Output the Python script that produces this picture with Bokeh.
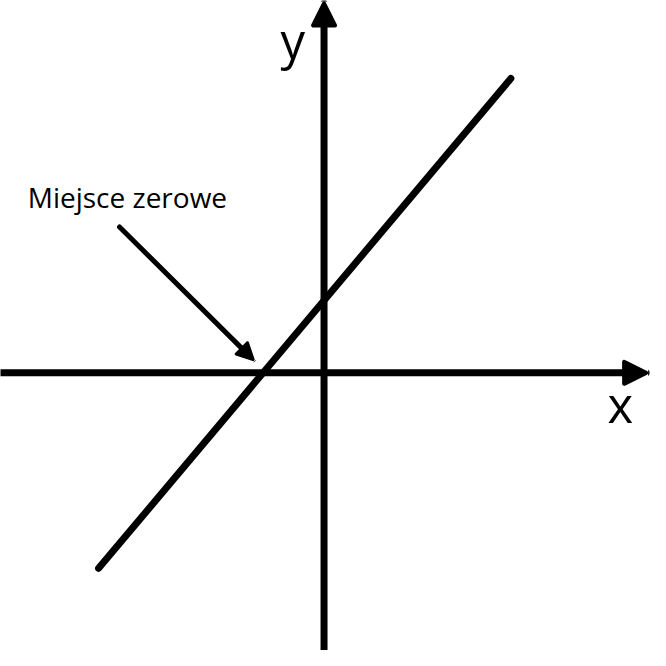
from bokeh.plotting import figure
from bokeh.models import Range1d, Arrow, NormalHead, Label
from bokeh.embed import file_html
from bokeh.resources import INLINE

# linear function y = a*x + b drawn as a segment (math units)
line_x = [-7.0, 5.8]
line_y = [-6.07, 9.14]

# axes extents (math units)
x_axis = [-10.05, 10.0]
y_axis = [-8.7, 11.47]

# annotation arrow pointing at the zero of the function
note_text = "Miejsce zerowe"
note_start = (-6.35, 4.53)
note_end = (-2.2, 0.41)
note_pos = (-9.2, 5.45)

x_label = "x"
y_label = "y"

p = figure(width=650, height=650, output_backend="svg", toolbar_location=None,
           x_range=Range1d(-10.045, 10.136), y_range=Range1d(-8.621, 11.561),
           min_border=0)
p.axis.visible = False
p.grid.visible = False
p.outline_line_color = None
p.background_fill_color = "white"
p.border_fill_color = "white"

# axes with arrowheads
p.add_layout(Arrow(x_start=x_axis[0], y_start=0, x_end=x_axis[1], y_end=0,
                   line_width=7, line_color="black", line_cap="round",
                   end=NormalHead(size=22, fill_color="black", line_color="black",
                                  line_width=4, line_join="round")))
p.add_layout(Arrow(x_start=0, y_start=y_axis[0], x_end=0, y_end=y_axis[1],
                   line_width=7, line_color="black", line_cap="round",
                   end=NormalHead(size=22, fill_color="black", line_color="black",
                                  line_width=4, line_join="round")))

# function line
p.line(line_x, line_y, line_width=7, line_color="black", line_cap="round")

# annotation arrow
p.add_layout(Arrow(x_start=note_start[0], y_start=note_start[1],
                   x_end=note_end[0], y_end=note_end[1],
                   line_width=5, line_color="black", line_cap="round",
                   end=NormalHead(size=16, fill_color="black", line_color="black",
                                  line_width=3, line_join="round")))

p.add_layout(Label(x=note_pos[0], y=note_pos[1], text=note_text,
                   text_font="Open Sans", text_font_size="28px",
                   text_color="black", text_baseline="alphabetic", text_align="left"))
p.add_layout(Label(x=-0.97, y=10.35, text=y_label, text_font="Open Sans",
                   text_font_size="49px", text_color="black",
                   text_baseline="alphabetic", text_align="center"))
p.add_layout(Label(x=9.2, y=-0.96, text=x_label, text_font="Open Sans",
                   text_font_size="49px", text_color="black",
                   text_baseline="alphabetic", text_align="center"))

open("out.html", "w").write(file_html(p, INLINE))
